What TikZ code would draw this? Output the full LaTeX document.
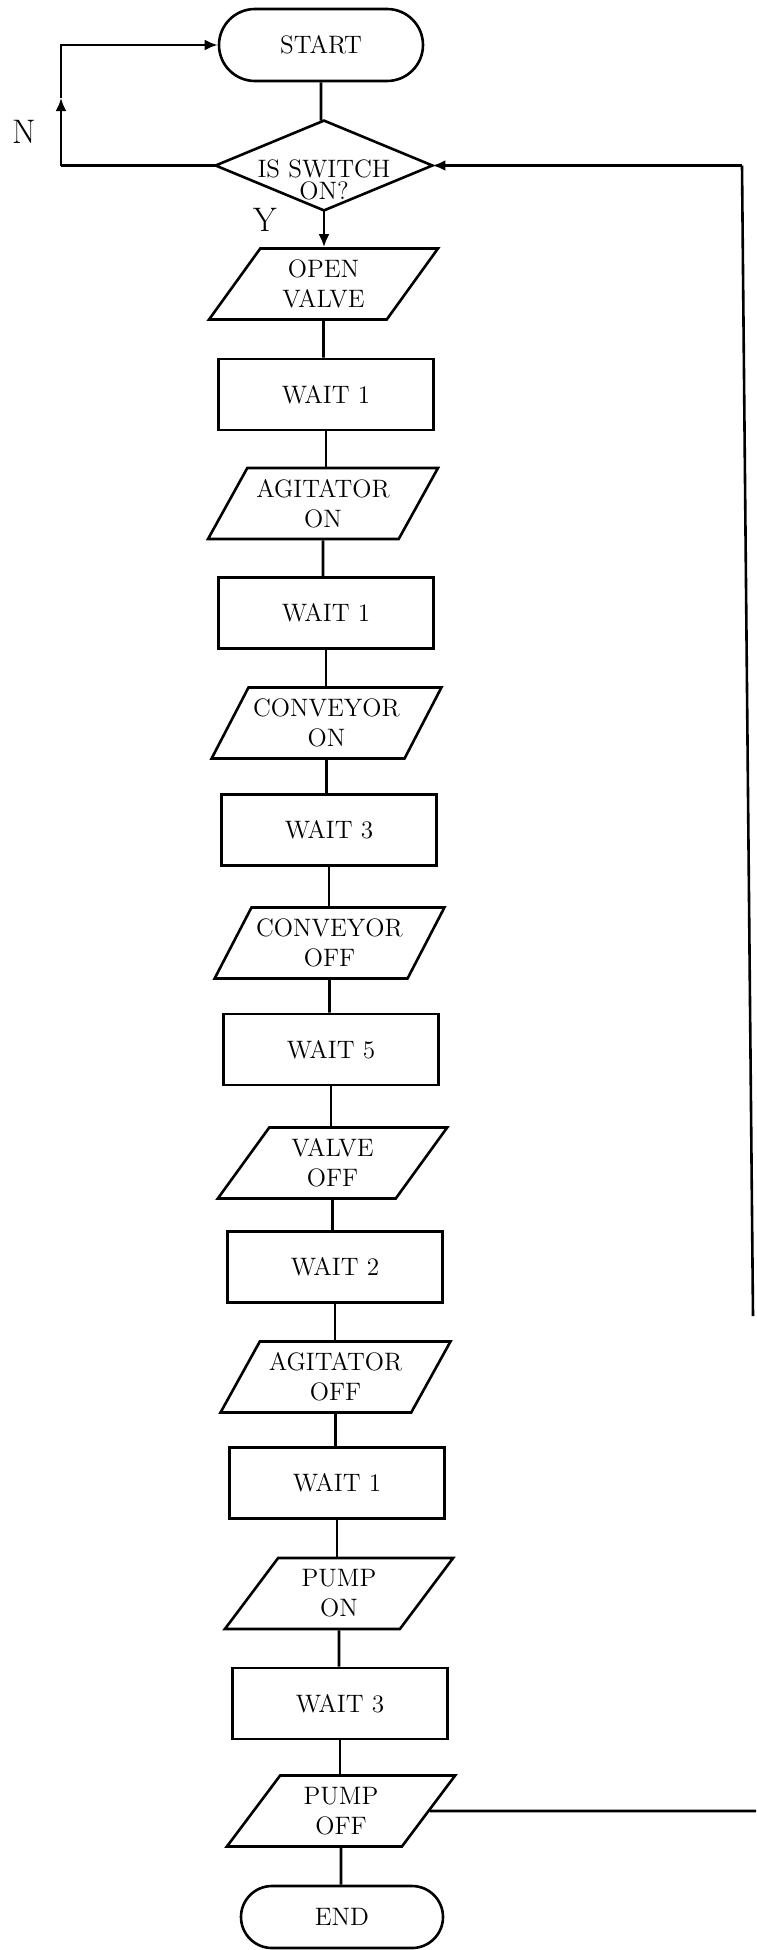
\documentclass[tikz,border=0pt]{standalone}
\usetikzlibrary{shapes.geometric,shapes.misc,arrows.meta}
\begin{document}
\begin{tikzpicture}[x=0.5pt,y=-0.5pt,
  line/.style={line width=1.3pt, line join=miter},
  arr/.style={line, -{Latex[length=6.5pt,width=5.5pt]}},
  txt/.style={font=\fontsize{12.6}{15}\selectfont, align=center},
  term/.style={txt, rounded rectangle, draw, line width=1.3pt, minimum width=106pt, minimum height=36pt, inner sep=2pt},
  proc/.style={txt, rectangle, draw, line width=1.3pt, minimum width=107.5pt, minimum height=35.5pt, inner sep=2pt},
  io/.style={txt, trapezium, trapezium left angle=57, trapezium right angle=123, trapezium stretches=true, draw, line width=1.3pt, minimum width=115pt, minimum height=35.5pt, inner sep=2pt},
  dshape/.style={rectangle, minimum width=108pt, minimum height=44.5pt, inner sep=0pt},
  yn/.style={font=\fontsize{17}{20}\selectfont}]
\useasboundingbox (0,0) rectangle (756,1950);
% nodes
\node[term] (start) at (321,45) {START};
\node[dshape] (dec) at (324,165.5) {};
\draw[line] (dec.north) -- (dec.east) -- (dec.south) -- (dec.west) -- cycle;
\node[txt, font=\fontsize{12.6}{11}\selectfont] (dect) at (324,180) {IS SWITCH\\ON?};
\node[io] (ov) at (323.5,284) {OPEN\\VALVE};
\node[proc] (w1a) at (326,394.5) {WAIT 1};
\node[io] (agon) at (323,503.5) {AGITATOR\\ON};
\node[proc] (w1b) at (326,613) {WAIT 1};
\node[io] (conon) at (326.5,723) {CONVEYOR\\ON};
\node[proc] (w3a) at (329,830) {WAIT 3};
\node[io] (conoff) at (329.5,943) {CONVEYOR\\OFF};
\node[proc] (w5) at (331,1049.5) {WAIT 5};
\node[io] (valoff) at (332.5,1163) {VALVE\\OFF};
\node[proc] (w2) at (335,1267) {WAIT 2};
\node[io] (agoff) at (335.5,1377) {AGITATOR\\OFF};
\node[proc] (w1c) at (337,1483) {WAIT 1};
\node[io] (pumpon) at (339,1593.5) {PUMP\\ON};
\node[proc] (w3b) at (340,1703.5) {WAIT 3};
\node[io] (pumpoff) at (341,1811) {PUMP\\OFF};
\node[term, minimum width=105pt, minimum height=31pt] (end) at (342,1917) {END};
% labels
\node[yn] (nlab) at (24,132) {N};
\node[yn] (ylab) at (265,220) {Y};
% main column connectors
\draw[line] (start) -- (start |- dec.north);
\draw[arr] (dec) -- (dec |- ov.north);
\draw[line] (ov) -- (ov |- w1a.north);
\draw[line] (w1a) -- (w1a |- agon.north);
\draw[line] (agon) -- (agon |- w1b.north);
\draw[line] (w1b) -- (w1b |- conon.north);
\draw[line] (conon) -- (conon |- w3a.north);
\draw[line] (w3a) -- (w3a |- conoff.north);
\draw[line] (conoff) -- (conoff |- w5.north);
\draw[line] (w5) -- (w5 |- valoff.north);
\draw[line] (valoff) -- (valoff |- w2.north);
\draw[line] (w2) -- (w2 |- agoff.north);
\draw[line] (agoff) -- (agoff |- w1c.north);
\draw[line] (w1c) -- (w1c |- pumpon.north);
\draw[line] (pumpon) -- (pumpon |- w3b.north);
\draw[line] (w3b) -- (w3b |- pumpoff.north);
\draw[line] (pumpoff) -- (pumpoff |- end.north);
% N loop
\coordinate (nl) at (61,165.5);
\coordinate (nm) at (61,98);
\coordinate (nt) at (61,45);
\draw[line] (dec.west) -- (nl);
\draw[arr] (nl) -- (nm);
\draw[arr] (nm) -- (nt) -- (start.west);
% right loop
\coordinate (rb) at (753,1316);
\coordinate (rt) at (742,165.5);
\draw[line] (rb) -- (rt);
\draw[arr] (rt) -- (dec.east);
\coordinate (re) at (756,1811);
\draw[line] (pumpoff.east) -- (re);
\end{tikzpicture}
\end{document}
